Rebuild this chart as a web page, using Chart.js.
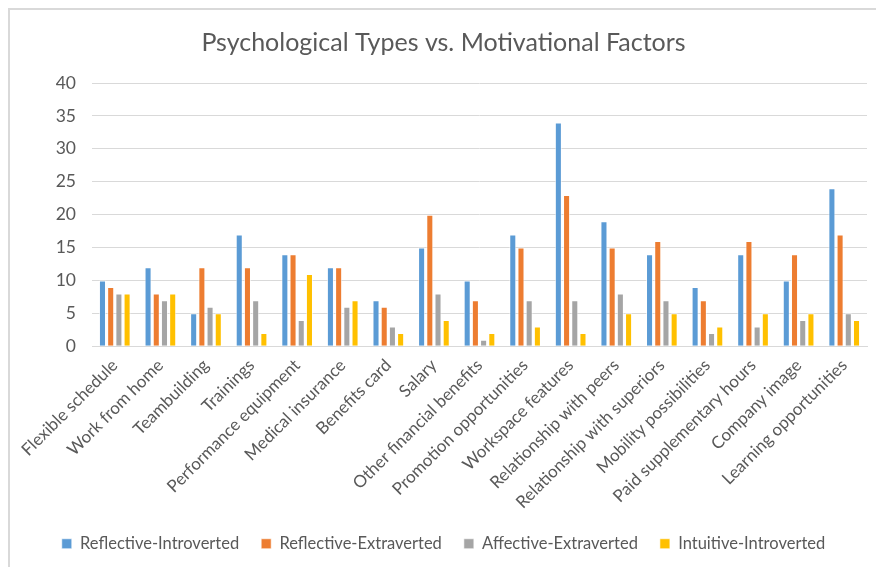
<!DOCTYPE html>
<html>
<head>
<meta charset="utf-8">
<script src="https://cdn.jsdelivr.net/npm/chart.js@4.4.1/dist/chart.umd.min.js"></script>
<style>
    html, body { margin: 0; padding: 0; background: #fff; overflow: hidden; }
    #frame {
        position: absolute; left: 8px; top: 8px; width: 900px; height: 600px;
        border: 2px solid #d9d9d9; box-sizing: border-box;
    }
    #wrap { position: absolute; left: 0; top: 0; width: 876px; height: 567px; }
</style>
</head>
<body>
<div id="frame"></div>
<div id="wrap"><canvas id="chart" width="876" height="567"></canvas></div>
<script>
const categories = [
    "Flexible schedule", "Work from home", "Teambuilding", "Trainings",
    "Performance equipment", "Medical insurance", "Benefits card", "Salary",
    "Other financial benefits", "Promotion opportunities", "Workspace features",
    "Relationship with peers", "Relationship with superiors", "Mobility possibilities",
    "Paid supplementary hours", "Company image", "Learning opportunities",
];
const reflectiveIntroverted = [10, 12, 5, 17, 14, 12, 7, 15, 10, 17, 34, 19, 14, 9, 14, 10, 24];
const reflectiveExtraverted = [9, 8, 12, 12, 14, 12, 6, 20, 7, 15, 23, 15, 16, 7, 16, 14, 17];
const affectiveExtraverted = [8, 7, 6, 7, 4, 6, 3, 8, 1, 7, 7, 8, 7, 2, 3, 4, 5];
const intuitiveIntroverted = [8, 8, 5, 2, 11, 7, 2, 4, 2, 3, 2, 5, 5, 3, 5, 5, 4];
const yTicks = [0, 5, 10, 15, 20, 25, 30, 35, 40];

const FONT = "Lato, 'Open Sans', sans-serif";
const TEXT = "#595959";
const GRID = "#d9d9d9";

function series(label, data, color) {
    return {
        label: label,
        data: data,
        backgroundColor: color,
        borderColor: "rgba(255,255,255,0.6)",
        borderWidth: 1,
        categoryPercentage: 0.72,
        barPercentage: 0.86,
    };
}

const ctx = document.getElementById("chart");
new Chart(ctx, {
    type: "bar",
    data: {
        labels: categories,
        datasets: [
            series("Reflective-Introverted", reflectiveIntroverted, "#5b9bd5"),
            series("Reflective-Extraverted", reflectiveExtraverted, "#ed7d31"),
            series("Affective-Extraverted", affectiveExtraverted, "#a5a5a5"),
            series("Intuitive-Introverted", intuitiveIntroverted, "#ffc000"),
        ],
    },
    options: {
        responsive: false,
        animation: false,
        layout: {padding: {left: 20, right: 9, top: 28, bottom: 5}},
        plugins: {
            title: {
                display: true,
                text: "Psychological Types vs. Motivational Factors",
                color: TEXT,
                font: {family: FONT, size: 25, weight: "normal"},
                padding: {top: 0, bottom: 25},
            },
            legend: {
                position: "bottom",
                labels: {
                    color: TEXT,
                    font: {family: FONT, size: 16.5},
                    boxWidth: 10,
                    boxHeight: 10,
                    padding: 22,
                },
            },
            tooltip: {enabled: false},
        },
        scales: {
            x: {
                grid: {display: false},
                border: {color: GRID, width: 1},
                ticks: {
                    color: TEXT,
                    font: {family: FONT, size: 17},
                    minRotation: 45,
                    maxRotation: 45,
                    autoSkip: false,
                    padding: 1,
                },
            },
            y: {
                min: 0,
                max: 40,
                afterBuildTicks: (axis) => {
                    axis.ticks = yTicks.map((v) => ({value: v}));
                },
                afterFit: (axis) => {
                    axis.width = 72;
                },
                grid: {color: GRID, lineWidth: 1, drawTicks: false},
                border: {display: false},
                ticks: {
                    color: TEXT,
                    font: {family: FONT, size: 17.5},
                    padding: 16,
                },
            },
        },
    },
});
</script>
</body>
</html>
